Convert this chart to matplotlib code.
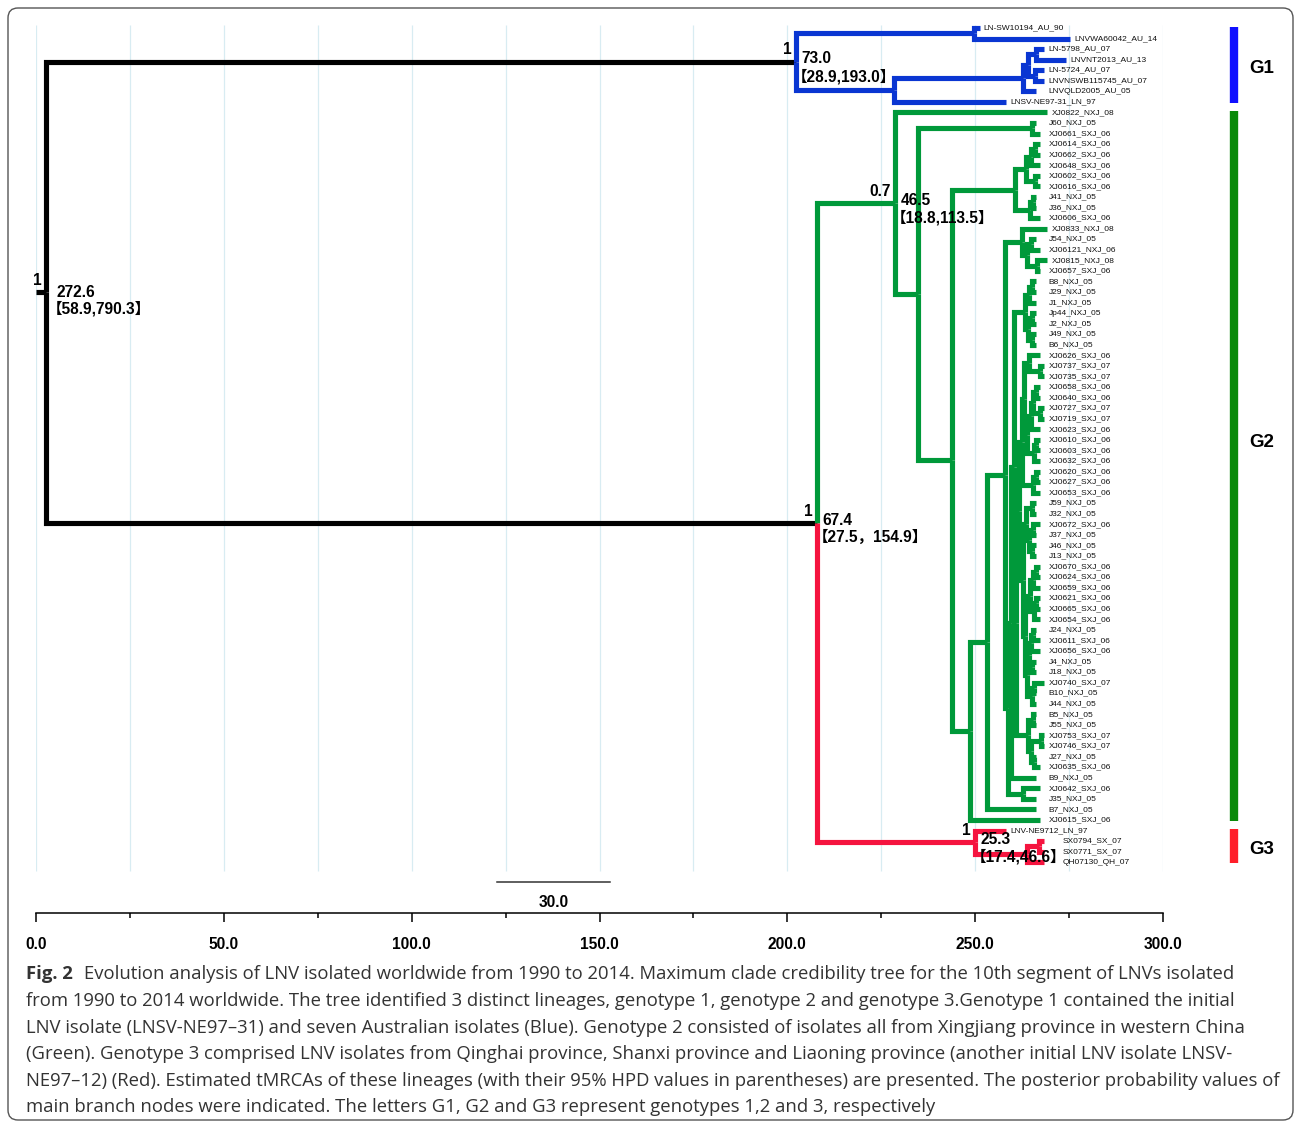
import re
import matplotlib
matplotlib.use("Agg")
import matplotlib.pyplot as plt
from matplotlib.collections import LineCollection
from matplotlib.patches import FancyBboxPatch

# MCC tree in newick form; the number after ")" is the node age (years before 2014),
# tip ages come from the sampling year at the end of each name
g1_tree = ("((LN-SW10194_AU_90,LNVWA60042_AU_14)25.5,"
           "((((LN-5798_AU_07,LNVNT2013_AU_13)9.0,(LN-5724_AU_07,LNVNSWB115745_AU_07)9.3)11.2,"
           "LNVQLD2005_AU_05)12.5,LNSV-NE97-31_LN_97)46.8)73.0")

clade_a = "(XJ0833_NXJ_08,((J54_NXJ_05,XJ06121_NXJ_06)10.3,(XJ0815_NXJ_08,XJ0657_SXJ_06)8.8)11.4)12.8"
clade_b1 = ("(((B8_NXJ_05,J29_NXJ_05)10.0,J1_NXJ_05)11.0,"
            "((Jp44_NXJ_05,J2_NXJ_05)10.0,(J49_NXJ_05,B6_NXJ_05)10.2)11.2)12.0")
clade_b2 = "(XJ0626_SXJ_06,(XJ0737_SXJ_07,XJ0735_SXJ_07)8.0)11.0"
clade_b3 = ("((((XJ0658_SXJ_06,XJ0640_SXJ_06)9.0,(XJ0727_SXJ_07,XJ0719_SXJ_07)8.0)9.8,XJ0623_SXJ_06)10.4,"
            "((XJ0610_SXJ_06,XJ0603_SXJ_06)9.0,XJ0632_SXJ_06)9.6)11.4")
clade_b4 = "((XJ0620_SXJ_06,XJ0627_SXJ_06)9.0,XJ0653_SXJ_06)9.8"
clade_b5 = "(J59_NXJ_05,J32_NXJ_05)10.2"
clade_b6 = "((XJ0672_SXJ_06,J37_NXJ_05)9.8,(J46_NXJ_05,J13_NXJ_05)10.0)10.8"
clade_b7 = ("(((XJ0670_SXJ_06,XJ0624_SXJ_06)9.0,XJ0659_SXJ_06)9.8,"
            "((XJ0621_SXJ_06,XJ0665_SXJ_06)9.0,XJ0654_SXJ_06)9.6)10.6")
clade_b8 = ("((((J24_NXJ_05,XJ0611_SXJ_06)9.8,XJ0656_SXJ_06)10.3,(J4_NXJ_05,J18_NXJ_05)10.0)11.0,"
            "((XJ0740_SXJ_07,B10_NXJ_05)9.6,J44_NXJ_05)10.2)11.5")
clade_b9 = ("((B5_NXJ_05,J55_NXJ_05)9.8,((XJ0753_SXJ_07,XJ0746_SXJ_07)7.8,"
            "(J27_NXJ_05,XJ0635_SXJ_06)9.6)10.4)11.2")
clade_d1 = f"(({clade_b2},{clade_b3})12.2,{clade_b4})12.8"
clade_d2 = f"(({clade_b5},{clade_b6})11.6,({clade_b7},{clade_b8})12.0)12.6"
clade_b = (f"((({clade_b1},(({clade_d1},{clade_d2})13.4,{clade_b9})14.2)14.8,B9_NXJ_05)15.6,"
           "(XJ0642_SXJ_06,J35_NXJ_05)12.5)16.4")
g2_tree = ("(XJ0822_NXJ_08,((J60_NXJ_05,XJ0661_SXJ_06)10.2,"
           "(((((XJ0614_SXJ_06,XJ0662_SXJ_06)9.4,XJ0648_SXJ_06)10.4,(XJ0602_SXJ_06,XJ0616_SXJ_06)9.4)11.6,"
           "((J41_NXJ_05,J36_NXJ_05)9.8,XJ0606_SXJ_06)10.6)14.6,"
           f"((({clade_a},{clade_b})17.3,B7_NXJ_05)22.1,XJ0615_SXJ_06)26.6)31.4)40.4)46.5")
g3_tree = "(LNV-NE9712_LN_97,((SX0794_SX_07,SX0771_SX_07)8.2,QH07130_QH_07)11.4)25.3"
newick = f"({g1_tree},({g2_tree},{g3_tree})67.4)272.6"

# labelled nodes: tMRCA, posterior, 95% HPD
node_age = [272.6, 73.0, 67.4, 46.5, 25.3]
node_post = ["1", "1", "1", "0.7", "1"]
node_hpd = ["58.9,790.3", "28.9,193.0", "27.5，154.9", "18.8,113.5", "17.4,46.6"]

genotypes = ["G1", "G2", "G3"]
geno_first = ["LN-SW10194_AU_90", "XJ0822_NXJ_08", "LNV-NE9712_LN_97"]
geno_last = ["LNSV-NE97-31_LN_97", "XJ0615_SXJ_06", "QH07130_QH_07"]

axis_ticks = [0, 50, 100, 150, 200, 250, 300]
scale_len = 30.0

caption = [
    "from 1990 to 2014 worldwide. The tree identified 3 distinct lineages, genotype 1, genotype 2 and genotype 3.Genotype 1 contained the initial",
    "LNV isolate (LNSV-NE97–31) and seven Australian isolates (Blue). Genotype 2 consisted of isolates all from Xingjiang province in western China",
    "(Green). Genotype 3 comprised LNV isolates from Qinghai province, Shanxi province and Liaoning province (another initial LNV isolate LNSV-",
    "NE97–12) (Red). Estimated tMRCAs of these lineages (with their 95% HPD values in parentheses) are presented. The posterior probability values of",
    "main branch nodes were indicated. The letters G1, G2 and G3 represent genotypes 1,2 and 3, respectively",
]
caption_head = "Evolution analysis of LNV isolated worldwide from 1990 to 2014. Maximum clade credibility tree for the 10th segment of LNVs isolated"

BLUE, GREEN, RED = "#0a36d2", "#00993a", "#f5143f"
bar_colors = ["#1010ff", "#0a8a0a", "#ff1f2a"]
T_END = 275.2          # axis position of the 2014 samples
LABEL_FONT = ["Liberation Sans", "Noto Sans CJK SC"]
BOLD = 11.2


def parse(s, i=0):
    if s[i] == "(":
        kids = []
        i += 1
        while True:
            child, i = parse(s, i)
            kids.append(child)
            i += 1
            if s[i - 1] == ")":
                break
        m = re.match(r"[\d.]+", s[i:])
        return {"kids": kids, "age": float(m.group())}, i + m.end()
    m = re.match(r"[^,()]+", s[i:])
    name = m.group()
    yy = int(name[-2:])
    year = 1900 + yy if yy > 50 else 2000 + yy
    return {"name": name, "age": float(2014 - year)}, i + m.end()


root, _ = parse(newick)
tips = []


def layout(node):
    if "kids" in node:
        for k in node["kids"]:
            layout(k)
        node["y"] = (node["kids"][0]["y"] + node["kids"][-1]["y"]) / 2
    else:
        node["y"] = len(tips)
        tips.append(node)
    node["x"] = T_END - node["age"]


layout(root)

# branch colour of the clade node itself, colour handed to its descendants
clade_col = {73.0: ("black", BLUE), 46.5: (GREEN, GREEN), 25.3: (RED, RED)}
segs, cols, internal = [], [], {}


def walk(node, colour):
    internal[node["age"]] = node
    for k in node["kids"]:
        own, down = colour, colour
        if "kids" in k and k["age"] in clade_col:
            own, down = clade_col[k["age"]]
        segs.append([(node["x"], node["y"]), (node["x"], k["y"]), (k["x"], k["y"])])
        cols.append(own)
        if "kids" in k:
            walk(k, down)


walk(root, "black")


def tip_names(node, out):
    if "kids" in node:
        for k in node["kids"]:
            tip_names(k, out)
    else:
        out.add(node["name"])
    return out


g3_names = tip_names(internal[25.3], set())

fig = plt.figure(figsize=(12.95, 11.26), dpi=100)

# page layer in pixel coordinates: frame and caption
bg = fig.add_axes([0, 0, 1, 1], zorder=0)
bg.set_xlim(0, 1295)
bg.set_ylim(1126, 0)
bg.axis("off")
bg.add_patch(FancyBboxPatch((8, 8), 1285, 1112, boxstyle="round,pad=0,rounding_size=10",
                            fc="none", ec="#555555", lw=1.0))
cap_kw = dict(fontsize=13.3, family="Open Sans", color="#333333", va="center")
bg.text(26, 974, "Fig. 2", fontweight="bold", **cap_kw)
bg.text(84, 974, caption_head, **cap_kw)
for j, line in enumerate(caption):
    bg.text(26, 1001 + j * 26.6, line, **cap_kw)

ax = fig.add_axes([36 / 1295, 213 / 1126, 1127 / 1295, 913 / 1126], zorder=1)
ax.patch.set_alpha(0)
ax.set_xlim(0, 300)
ax.set_ylim(83.81, -2.652)

ax.vlines(range(0, 301, 25), -0.3, 79.8, color="#d8ecf2", lw=0.9, zorder=0)

ax.add_collection(LineCollection(segs, colors=cols, linewidths=3.7,
                                 capstyle="butt", joinstyle="miter", zorder=2))
ax.plot([0, root["x"]], [root["y"]] * 2, color="black", lw=3.7, solid_capstyle="butt", zorder=2)

# tip names; recent tips sit in a loose column
for t in tips:
    lx = t["x"] + 1.1
    if t["x"] > 262:
        lx = max(lx, 273.2 if t["name"] in g3_names else 269.6)
    ax.text(lx, t["y"], t["name"], fontsize=6.0, family="Liberation Sans",
            va="center", ha="left", color="#111111", zorder=3)

for age, post, hpd in zip(node_age, node_post, node_hpd):
    n = internal[age]
    is_root = n is root
    nk = dict(xycoords="data", textcoords="offset points", fontsize=BOLD,
              fontweight="bold", family=LABEL_FONT, zorder=4, annotation_clip=False)
    ax.annotate(post, (n["x"], n["y"]), xytext=(-3, 3), ha="right", va="bottom", **nk)
    ax.annotate(f"{age:.1f}", (n["x"], n["y"]), xytext=(8 if is_root else 4, 0 if is_root else 2),
                ha="left", va="center", **nk)
    ax.annotate(f"【{hpd}】", (n["x"], n["y"]), xytext=(1 if is_root else -3, -12 if is_root else -10.5),
                ha="left", va="center", **nk)

# genotype bars on the right
name_y = {t["name"]: t["y"] for t in tips}
label_shift = [0.3, -2.2, 0.3]
for g, a, b, c, dy in zip(genotypes, geno_first, geno_last, bar_colors, label_shift):
    y0, y1 = name_y[a] - 0.1, name_y[b] + 0.1
    ax.plot([318.9, 318.9], [y0, y1], color=c, lw=6, solid_capstyle="butt", clip_on=False)
    ax.text(326.3, (y0 + y1) / 2 + dy, g, fontsize=13.5, fontweight="bold", family="Liberation Sans",
            ha="center", va="center", clip_on=False)

# scale bar
sb_x = 122.7
ax.plot([sb_x, sb_x + scale_len], [80.87, 80.87], color="#333333", lw=1.1)
ax.text(sb_x + scale_len / 2, 82.8, f"{scale_len:.1f}", fontsize=BOLD, fontweight="bold",
        family="Liberation Sans", ha="center", va="center")

# time axis
for s in ["top", "left", "right"]:
    ax.spines[s].set_visible(False)
ax.spines["bottom"].set_linewidth(1.1)
ax.set_yticks([])
ax.set_xticks(axis_ticks)
ax.set_xticklabels([f"{v:.1f}" for v in axis_ticks], fontweight="bold", fontsize=BOLD,
                   family="Liberation Sans")
ax.set_xticks(range(25, 300, 50), minor=True)
ax.tick_params(axis="x", which="major", direction="out", length=6.5, width=1.1, pad=10.5)
ax.tick_params(axis="x", which="minor", direction="out", length=3.6, width=1.1)

fig.savefig("out.png", dpi=100)
